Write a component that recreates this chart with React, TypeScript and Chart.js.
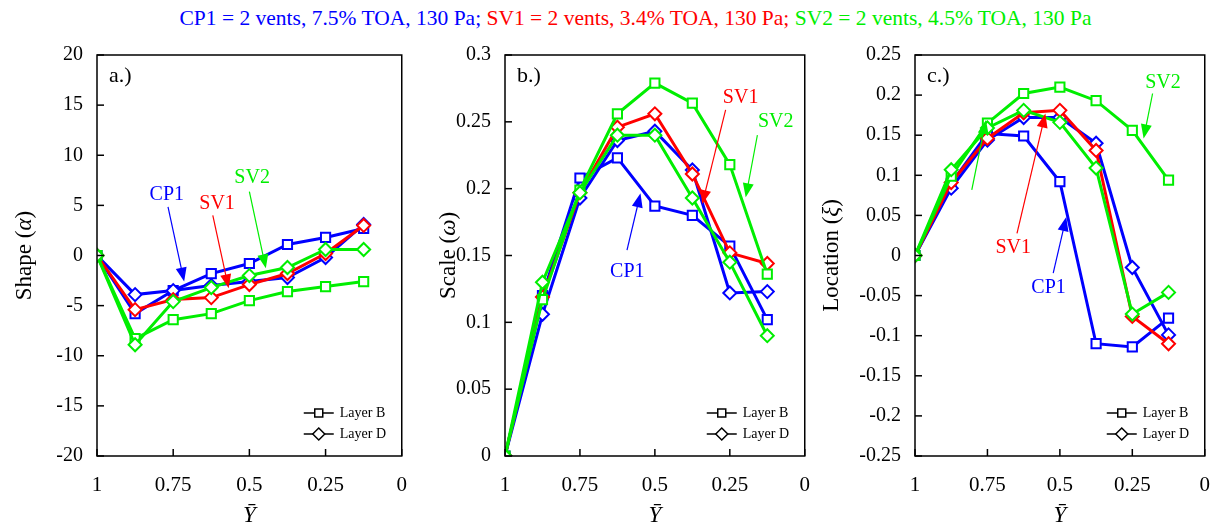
import { useEffect, useRef } from 'react';
import { Chart, registerables } from 'chart.js';

Chart.register(...registerables);

// ---------- data ----------
const xValues = [1, 0.875, 0.75, 0.625, 0.5, 0.375, 0.25, 0.125];
const xTickValues = [1, 0.75, 0.5, 0.25, 0];

const shapeCP1B = [0, -5.8, -3.5, -1.8, -0.8, 1.1, 1.8, 2.7];
const shapeCP1D = [0, -3.9, -3.5, -3.0, -2.6, -2.2, -0.2, 3.1];
const shapeSV1D = [0, -5.4, -4.4, -4.2, -2.9, -1.8, 0.2, 3.0];
const shapeSV2B = [0, -8.3, -6.4, -5.8, -4.5, -3.6, -3.1, -2.6];
const shapeSV2D = [0, -8.9, -4.6, -3.2, -2.0, -1.2, 0.6, 0.6];

const scaleCP1B = [0, 0.12, 0.208, 0.223, 0.187, 0.18, 0.157, 0.102];
const scaleCP1D = [0, 0.106, 0.193, 0.236, 0.243, 0.214, 0.122, 0.123];
const scaleSV1D = [0, 0.119, 0.197, 0.246, 0.256, 0.211, 0.152, 0.144];
const scaleSV2B = [0, 0.117, 0.199, 0.256, 0.279, 0.264, 0.218, 0.136];
const scaleSV2D = [0, 0.13, 0.197, 0.24, 0.24, 0.193, 0.145, 0.09];

const locCP1B = [0, 0.09, 0.152, 0.149, 0.092, -0.11, -0.114, -0.078];
const locCP1D = [0, 0.084, 0.144, 0.172, 0.172, 0.14, -0.015, -0.099];
const locSV1D = [0, 0.091, 0.146, 0.178, 0.181, 0.131, -0.076, -0.11];
const locSV2B = [0, 0.099, 0.165, 0.202, 0.21, 0.193, 0.156, 0.094];
const locSV2D = [0, 0.107, 0.159, 0.181, 0.166, 0.109, -0.073, -0.046];

const BLUE = '#0000ff';
const RED = '#ff0000';
const GREEN = '#00ee00';
const SERIF = "'Liberation Serif', 'Times New Roman', serif";

type Annot = { text: string; color: string; tx: number; ty: number; x1: number; y1: number; x2: number; y2: number; head: boolean };

type Panel = {
  left: number; width: number; yWidth: number; padRight: number;
  yMin: number; yMax: number; yStep: number;
  yTitle: [string, string, string]; titleX: number; letter: string;
  series: { data: number[]; color: string; layer: 'B' | 'D'; order: number }[];
  annots: Annot[];
};

const panels: Panel[] = [
  {
    left: 0, width: 424, yWidth: 97, padRight: 0,
    yMin: -20, yMax: 20, yStep: 5,
    yTitle: ['Shape (', 'α', ')'], titleX: 25, letter: 'a.)',
    series: [
      { data: shapeCP1B, color: BLUE, layer: 'B', order: 5 },
      { data: shapeCP1D, color: BLUE, layer: 'D', order: 4 },
      { data: shapeSV1D, color: RED, layer: 'D', order: 3 },
      { data: shapeSV2B, color: GREEN, layer: 'B', order: 2 },
      { data: shapeSV2D, color: GREEN, layer: 'D', order: 1 },
    ],
    annots: [
      { text: 'CP1', color: BLUE, tx: 0.771, ty: 6.03, x1: 0.767, y1: 4.84, x2: 0.714, y2: -2.6, head: true },
      { text: 'SV1', color: RED, tx: 0.606, ty: 5.2, x1: 0.62, y1: 4.0, x2: 0.568, y2: -3.27, head: true },
      { text: 'SV2', color: GREEN, tx: 0.491, ty: 7.8, x1: 0.5, y1: 6.36, x2: 0.446, y2: -1.28, head: true },
    ],
  },
  {
    left: 415, width: 412, yWidth: 90, padRight: 0,
    yMin: 0, yMax: 0.3, yStep: 0.05,
    yTitle: ['Scale (', 'ω', ')'], titleX: 34, letter: 'b.)',
    series: [
      { data: scaleCP1B, color: BLUE, layer: 'B', order: 5 },
      { data: scaleCP1D, color: BLUE, layer: 'D', order: 4 },
      { data: scaleSV1D, color: RED, layer: 'D', order: 3 },
      { data: scaleSV2B, color: GREEN, layer: 'B', order: 2 },
      { data: scaleSV2D, color: GREEN, layer: 'D', order: 1 },
    ],
    annots: [
      { text: 'SV1', color: RED, tx: 0.214, ty: 0.268, x1: 0.264, y1: 0.259, x2: 0.342, y2: 0.1885, head: true },
      { text: 'SV2', color: GREEN, tx: 0.097, ty: 0.25, x1: 0.158, y1: 0.24, x2: 0.197, y2: 0.1935, head: true },
      { text: 'CP1', color: BLUE, tx: 0.592, ty: 0.138, x1: 0.593, y1: 0.154, x2: 0.548, y2: 0.1965, head: true },
    ],
  },
  {
    left: 810, width: 417, yWidth: 105, padRight: 0,
    yMin: -0.25, yMax: 0.25, yStep: 0.05,
    yTitle: ['Location (', 'ξ', ')'], titleX: 22, letter: 'c.)',
    series: [
      { data: locCP1B, color: BLUE, layer: 'B', order: 5 },
      { data: locCP1D, color: BLUE, layer: 'D', order: 4 },
      { data: locSV1D, color: RED, layer: 'D', order: 3 },
      { data: locSV2B, color: GREEN, layer: 'B', order: 2 },
      { data: locSV2D, color: GREEN, layer: 'D', order: 1 },
    ],
    annots: [
      { text: 'SV2', color: GREEN, tx: 0.144, ty: 0.215, x1: 0.18, y1: 0.202, x2: 0.211, y2: 0.146, head: true },
      { text: 'SV1', color: RED, tx: 0.661, ty: 0.0094, x1: 0.648, y1: 0.0277, x2: 0.55, y2: 0.177, head: true },
      { text: 'CP1', color: BLUE, tx: 0.539, ty: -0.0405, x1: 0.523, y1: -0.022, x2: 0.478, y2: 0.048, head: true },
      { text: '', color: GREEN, tx: 0, ty: 0, x1: 0.804, y1: 0.0817, x2: 0.755, y2: 0.169, head: true },
    ],
  },
];

function fmt(v: number) {
  return String(Math.round(v * 1000) / 1000);
}

function drawArrow(ctx: CanvasRenderingContext2D, x1: number, y1: number, x2: number, y2: number, color: string, head: boolean) {
  const ang = Math.atan2(y2 - y1, x2 - x1);
  const hl = 14, hw = 5.5;
  ctx.strokeStyle = color;
  ctx.fillStyle = color;
  ctx.lineWidth = 1.2;
  ctx.beginPath();
  ctx.moveTo(x1, y1);
  ctx.lineTo(head ? x2 - Math.cos(ang) * hl * 0.8 : x2, head ? y2 - Math.sin(ang) * hl * 0.8 : y2);
  ctx.stroke();
  if (head) {
    const bx = x2 - Math.cos(ang) * hl, by = y2 - Math.sin(ang) * hl;
    ctx.beginPath();
    ctx.moveTo(x2, y2);
    ctx.lineTo(bx + Math.sin(ang) * hw, by - Math.cos(ang) * hw);
    ctx.lineTo(bx - Math.sin(ang) * hw, by + Math.cos(ang) * hw);
    ctx.closePath();
    ctx.fill();
  }
}

function makePlugin(p: Panel) {
  return {
    id: 'decor',
    afterDraw(chart: any) {
      const { ctx, chartArea: ca } = chart;
      const xs = chart.scales.x, ys = chart.scales.y;
      ctx.save();
      // frame
      ctx.strokeStyle = '#000';
      ctx.lineWidth = 1.5;
      ctx.strokeRect(ca.left, ca.top, ca.right - ca.left, ca.bottom - ca.top);
      // inward ticks
      ys.ticks.forEach((t: any) => {
        const py = ys.getPixelForValue(t.value);
        ctx.beginPath(); ctx.moveTo(ca.left, py); ctx.lineTo(ca.left + 7, py); ctx.stroke();
      });
      xTickValues.forEach((v) => {
        const px = xs.getPixelForValue(v);
        ctx.beginPath(); ctx.moveTo(px, ca.bottom); ctx.lineTo(px, ca.bottom - 7); ctx.stroke();
      });
      // panel letter
      ctx.fillStyle = '#000';
      ctx.font = `22px ${SERIF}`;
      ctx.textAlign = 'left';
      ctx.textBaseline = 'middle';
      ctx.fillText(p.letter, ca.left + 12, ca.top + 21);
      // y title
      ctx.save();
      ctx.translate(p.titleX, (ca.top + ca.bottom) / 2);
      ctx.rotate(-Math.PI / 2);
      ctx.font = `23px ${SERIF}`;
      const w0 = ctx.measureText(p.yTitle[0]).width;
      ctx.font = `italic 23px ${SERIF}`;
      const w1 = ctx.measureText(p.yTitle[1]).width;
      ctx.font = `23px ${SERIF}`;
      const w2 = ctx.measureText(p.yTitle[2]).width;
      let sx = -(w0 + w1 + w2) / 2;
      ctx.textAlign = 'left';
      ctx.fillText(p.yTitle[0], sx, 0); sx += w0;
      ctx.font = `italic 23px ${SERIF}`;
      ctx.fillText(p.yTitle[1], sx, 0); sx += w1;
      ctx.font = `23px ${SERIF}`;
      ctx.fillText(p.yTitle[2], sx, 0);
      ctx.restore();
      // annotations
      p.annots.forEach((a) => {
        drawArrow(ctx, xs.getPixelForValue(a.x1), ys.getPixelForValue(a.y1), xs.getPixelForValue(a.x2), ys.getPixelForValue(a.y2), a.color, a.head);
        if (a.text) {
          ctx.fillStyle = a.color;
          ctx.font = `20px ${SERIF}`;
          ctx.textAlign = 'center';
          ctx.textBaseline = 'middle';
          ctx.fillText(a.text, xs.getPixelForValue(a.tx), ys.getPixelForValue(a.ty));
        }
      });
      // legend
      const rows: [string, 'B' | 'D'][] = [['Layer B', 'B'], ['Layer D', 'D']];
      rows.forEach(([label, layer], i) => {
        const yy = ca.bottom - 43 + i * 21;
        const lx0 = ca.right - 98, lx1 = ca.right - 68, mx = ca.right - 83;
        ctx.strokeStyle = '#000';
        ctx.lineWidth = 1.5;
        ctx.beginPath(); ctx.moveTo(lx0, yy); ctx.lineTo(lx1, yy); ctx.stroke();
        ctx.fillStyle = '#fff';
        ctx.beginPath();
        if (layer === 'B') {
          ctx.rect(mx - 4, yy - 4, 8, 8);
        } else {
          ctx.moveTo(mx, yy - 6); ctx.lineTo(mx + 6, yy); ctx.lineTo(mx, yy + 6); ctx.lineTo(mx - 6, yy); ctx.closePath();
        }
        ctx.fill(); ctx.stroke();
        ctx.fillStyle = '#000';
        ctx.font = `14px ${SERIF}`;
        ctx.textAlign = 'left';
        ctx.textBaseline = 'middle';
        ctx.fillText(label, ca.right - 62, yy);
      });
      ctx.restore();
    },
  };
}

function PanelChart({ p }: { p: Panel }) {
  const ref = useRef<HTMLCanvasElement | null>(null);
  useEffect(() => {
    if (!ref.current) return;
    const datasets = p.series.map((s) => ({
      label: s.layer,
      data: xValues.map((x, i) => ({ x, y: s.data[i] })),
      borderColor: s.color,
      backgroundColor: '#ffffff',
      borderWidth: 3,
      pointStyle: s.layer === 'B' ? 'rect' : 'rectRot',
      pointRadius: 6.5,
      pointBorderWidth: 2,
      pointBackgroundColor: '#ffffff',
      pointBorderColor: s.color,
      tension: 0,
      order: s.order,
    }));
    const chart = new Chart(ref.current, {
      type: 'line',
      data: { datasets },
      plugins: [makePlugin(p)],
      options: {
        animation: false,
        responsive: false,
        devicePixelRatio: 1,
        layout: { padding: { top: 55, right: p.padRight, left: 0, bottom: 0 } },
        plugins: { legend: { display: false }, tooltip: { enabled: false } },
        scales: {
          x: {
            type: 'linear',
            reverse: true,
            min: 0,
            max: 1,
            afterBuildTicks: (scale: any) => {
              scale.ticks = xTickValues.map((v) => ({ value: v }));
            },
            afterFit: (scale: any) => { scale.height = 75; },
            grid: { display: false, drawTicks: false },
            border: { display: false },
            ticks: {
              callback: (v: any) => fmt(Number(v)),
              font: { family: SERIF, size: 21 },
              color: '#000',
              padding: 17,
              maxRotation: 0,
            },
            title: {
              display: true,
              text: 'Ȳ',
              color: '#000',
              font: { family: SERIF, size: 23, style: 'italic' },
              padding: { top: 0, bottom: 1 },
            },
          },
          y: {
            type: 'linear',
            min: p.yMin,
            max: p.yMax,
            afterFit: (scale: any) => { scale.width = p.yWidth; },
            grid: { display: false, drawTicks: false },
            border: { display: false },
            ticks: {
              stepSize: p.yStep,
              callback: (v: any) => fmt(Number(v)),
              font: { family: SERIF, size: 20 },
              color: '#000',
              padding: 14,
            },
          },
        },
      } as any,
    });
    return () => chart.destroy();
  }, [p]);
  return (
    <canvas
      ref={ref}
      width={p.width}
      height={531}
      style={{ position: 'absolute', left: p.left, top: 0, width: p.width, height: 531 }}
    />
  );
}

export default function App() {
  return (
    <div style={{ position: 'fixed', left: 0, top: 0, width: 1215, height: 531, background: '#fff', overflow: 'hidden' }}>
      <div
        style={{
          position: 'absolute', top: 4, left: 28, width: 1215, textAlign: 'center',
          fontFamily: SERIF, fontSize: 21.5, lineHeight: '28px', whiteSpace: 'nowrap',
        }}
      >
        <span style={{ color: BLUE }}>CP1 = 2 vents, 7.5% TOA, 130 Pa; </span>
        <span style={{ color: RED }}>SV1 = 2 vents, 3.4% TOA, 130 Pa; </span>
        <span style={{ color: GREEN }}>SV2 = 2 vents, 4.5% TOA, 130 Pa</span>
      </div>
      {panels.map((p, i) => (
        <PanelChart key={i} p={p} />
      ))}
    </div>
  );
}
